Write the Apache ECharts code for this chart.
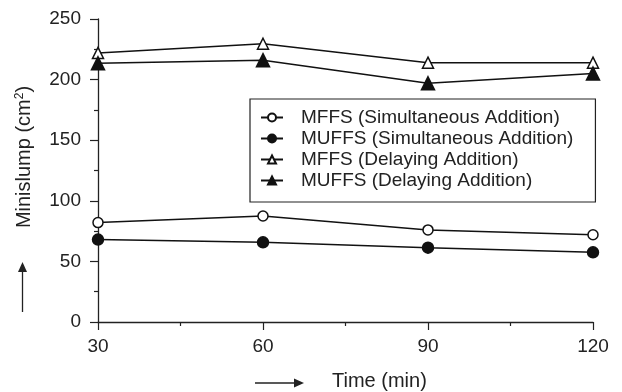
<!DOCTYPE html>
<html><head><meta charset="utf-8">
<script src="https://cdn.jsdelivr.net/npm/echarts@6/dist/echarts.min.js"></script>
<style>html,body{margin:0;padding:0;background:#fff}#c{width:622px;height:392px}</style>
</head><body><div id="c"></div>
<script>
var times = [30, 60, 90, 120];
var mffsSim = [82, 87.5, 76, 72];
var muffsSim = [68, 65.7, 61.3, 57.5];
var mffsDel = [222, 229.6, 214, 214];
var muffsDel = [213.5, 216, 197, 205];
var names = ['MFFS (Simultaneous Addition)', 'MUFFS (Simultaneous Addition)', 'MFFS (Delaying Addition)', 'MUFFS (Delaying Addition)'];

function pairs(v){ return times.map(function(t,i){return [t, v[i]];}); }
function mk(name, data, symbol, filled, size){
  return {
    name: name, type: 'line', data: pairs(data), symbol: symbol, symbolSize: size,
    lineStyle: {color: '#111', width: 1.5},
    itemStyle: {color: filled ? '#111' : '#fff', borderColor: '#111', borderWidth: 1.5},
    emphasis: {disabled: true}, animation: false
  };
}
var chart = echarts.init(document.getElementById('c'));
var font = 'Liberation Sans, Arial, sans-serif';
chart.setOption({
  animation: false,
  textStyle: {fontFamily: font},
  grid: {left: 98, right: 29, top: 19, bottom: 70},
  xAxis: {
    type: 'value', min: 30, max: 120, interval: 30,
    axisLine: {lineStyle: {color: '#222', width: 1.3}},
    axisTick: {length: 8, lineStyle: {color: '#222', width: 1.2}},
    minorTick: {show: true, splitNumber: 2, length: 4, lineStyle: {color: '#222', width: 1.2}},
    splitLine: {show: false},
    axisLabel: {color: '#222', fontSize: 19, margin: 15, fontFamily: font}
  },
  yAxis: {
    type: 'value', min: 0, max: 250, interval: 50,
    axisLine: {show: true, lineStyle: {color: '#222', width: 1.3}},
    axisTick: {show: true, length: 8, lineStyle: {color: '#222', width: 1.2}},
    minorTick: {show: true, splitNumber: 2, length: 4, lineStyle: {color: '#222', width: 1.2}},
    splitLine: {show: false},
    axisLabel: {color: '#222', fontSize: 19, margin: 17, fontFamily: font}
  },
  legend: {
    orient: 'vertical', left: 250, top: 99,
    padding: [9, 22, 12, 10], itemGap: 2, itemWidth: 22, itemHeight: 10,
    borderColor: '#222', borderWidth: 1.2, backgroundColor: '#fff',
    textStyle: {color: '#222', fontSize: 19, fontFamily: font, padding: [0, 0, 0, 13]},
    data: names
  },
  series: [
    mk(names[0], mffsSim, 'circle', false, 10),
    mk(names[1], muffsSim, 'circle', true, 11),
    mk(names[2], mffsDel, 'triangle', false, 11),
    mk(names[3], muffsDel, 'triangle', true, 13)
  ],
  graphic: [
    {type: 'line', shape: {x1: 22.5, y1: 312, x2: 22.5, y2: 268}, style: {stroke: '#222', lineWidth: 1.3}},
    {type: 'polygon', shape: {points: [[22.5, 262], [18, 272], [27, 272]]}, style: {fill: '#222'}},
    {type: 'line', shape: {x1: 255, y1: 383, x2: 296, y2: 383}, style: {stroke: '#222', lineWidth: 1.3}},
    {type: 'polygon', shape: {points: [[304, 383], [294, 378.5], [294, 387.5]]}, style: {fill: '#222'}},
    {type: 'text', x: 332, y: 381, style: {text: 'Time (min)', fill: '#222', fontSize: 20, fontFamily: font, textVerticalAlign: 'middle'}},
    {type: 'text', x: 24, y: 157, rotation: Math.PI/2, style: {text: 'Minislump (cm{s|2})', fill: '#222', fontSize: 20, fontFamily: font, textAlign: 'center', textVerticalAlign: 'middle', rich: {s: {fontSize: 12, verticalAlign: 'top', padding: [0,0,8,0], fill: '#222', fontFamily: font}}}}
  ]
});
</script>
</body></html>
